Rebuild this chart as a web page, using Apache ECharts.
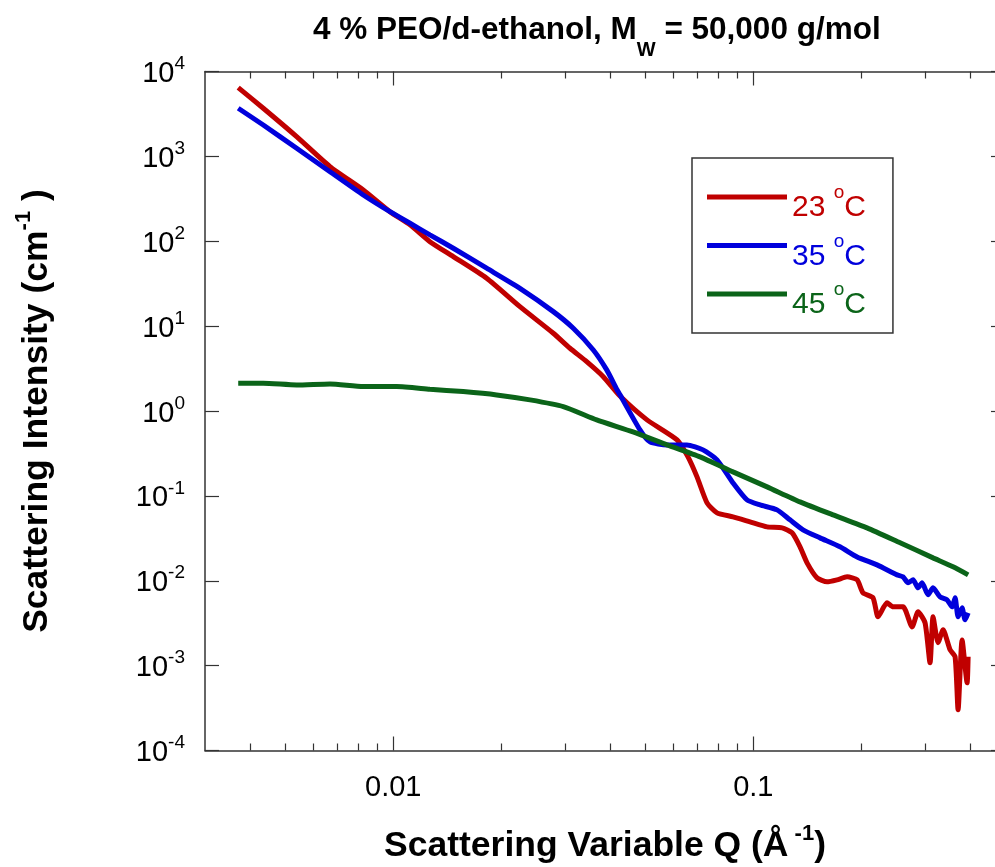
<!DOCTYPE html>
<html><head><meta charset="utf-8">
<script src="https://cdn.jsdelivr.net/npm/echarts@6/dist/echarts.min.js"></script>
<style>html,body{margin:0;padding:0;background:#fff}#c{width:995px;height:867px}</style>
</head><body><div id="c"></div>
<script>
// ---------- data ----------
const seriesNames = ['23 °C', '35 °C', '45 °C'];
const seriesColors = ['#C00000', '#0000DC', '#0B6419'];

const q23 = [0.00371,0.004355,0.005391,0.006672,0.008254,0.00979,0.01113,0.01264,0.01468,0.01817,0.02248,0.02783,0.03096,0.03445,0.03831,0.04263,0.05067,0.0614,0.06585,0.06976,0.07437,0.07927,0.08781,0.0979,0.1092,0.1202,0.1281,0.1348,0.141,0.1503,0.1602,0.1708,0.1821,0.1942,0.2017,0.215,0.222,0.2351,0.2443,0.2605,0.276,0.2868,0.2999,0.3096,0.3156,0.3259,0.3365,0.3519,0.3634,0.3704,0.38,0.3924,0.395];
const i23 = [6446,3686,1706,756,402,223,156,98.9,66.0,36.7,16.97,8.25,5.49,3.82,2.54,1.5,0.786,0.4566,0.288,0.1674,0.0827,0.0631,0.0566,0.0494,0.0431,0.042,0.0367,0.0251,0.01625,0.01082,0.00971,0.01025,0.01111,0.01025,0.0072,0.00629,0.00376,0.00549,0.00493,0.00493,0.00286,0.0043,0.00319,0.00108,0.00376,0.00186,0.00264,0.00154,0.00127,0.000302,0.00201,0.000627,0.00127];

const q35 = [0.00371,0.004355,0.005391,0.006672,0.008254,0.00979,0.01113,0.01264,0.01468,0.01817,0.02248,0.02783,0.03162,0.03594,0.03916,0.04175,0.04263,0.04844,0.05164,0.05758,0.06543,0.0725,0.07927,0.08781,0.09605,0.1044,0.1164,0.1264,0.1374,0.1532,0.1741,0.1942,0.2206,0.2507,0.2605,0.269,0.2778,0.2868,0.2942,0.3057,0.3156,0.3301,0.3452,0.3564,0.3634,0.3704,0.38,0.3873,0.395];
const i35 = [3686,2343,1246,660,351,223,163,119,82.7,48.1,27.9,14.82,9.45,5.24,3.05,1.806,1.55,0.599,0.4325,0.3988,0.3988,0.3482,0.2655,0.1422,0.0897,0.0783,0.0684,0.0522,0.0398,0.032,0.0251,0.0191,0.01539,0.01173,0.01111,0.00945,0.01025,0.00825,0.00945,0.00682,0.00825,0.00646,0.00596,0.00493,0.00629,0.00376,0.0048,0.00346,0.00419];

const q45 = [0.00371,0.004355,0.005391,0.006672,0.008254,0.01022,0.01264,0.01564,0.01937,0.02398,0.02966,0.03673,0.04633,0.05758,0.07111,0.08781,0.1092,0.1348,0.1665,0.2069,0.2556,0.3156,0.3587,0.395];
const i45 = [2.125,2.125,2.029,2.085,1.938,1.938,1.806,1.692,1.547,1.351,1.127,0.786,0.567,0.3988,0.288,0.1917,0.1276,0.085,0.0597,0.042,0.028,0.0186,0.01458,0.01173];

const xMajorTicks = [0.01, 0.1];
const xMinorTicks = [0.004,0.005,0.006,0.007,0.008,0.009,0.02,0.03,0.04,0.05,0.06,0.07,0.08,0.09,0.2,0.3,0.4];
const yTicks = [1e-4,1e-3,1e-2,1e-1,1,1e1,1e2,1e3,1e4];
const xRange = [0.003, 0.5];
const yRange = [1e-4, 1e4];

// ---------- chart ----------
const FF = '"Liberation Sans", Arial, sans-serif';
const qs = [q23, q35, q45], is = [i23, i35, i45];

function xAxisDef(pos, ticks, len, showLabel, showLine) {
  return {
    type: 'log', position: pos, min: xRange[0], max: xRange[1],
    axisLine: { show: showLine, onZero: false, lineStyle: { color: '#333', width: 1.5 } },
    axisTick: { show: true, inside: true, length: len, customValues: ticks, lineStyle: { color: '#333', width: 1.2 } },
    axisLabel: { show: showLabel, customValues: ticks, margin: 23, fontFamily: FF, fontSize: 29, color: '#000',
      formatter: v => String(v) },
    splitLine: { show: false }, minorTick: { show: false }
  };
}
function yAxisDef(pos, showLabel) {
  return {
    type: 'log', position: pos, min: yRange[0], max: yRange[1],
    axisLine: { show: true, onZero: false, lineStyle: { color: '#333', width: 1.5 } },
    axisTick: { show: true, inside: true, length: 14, customValues: yTicks, lineStyle: { color: '#333', width: 1.2 } },
    axisLabel: { show: showLabel, customValues: yTicks, margin: 20, fontFamily: FF,
      formatter: v => '{b|10}{s|' + Math.round(Math.log10(v)) + '}',
      rich: { b: { fontSize: 29, lineHeight: 34, verticalAlign: 'bottom', color: '#000', fontFamily: FF },
              s: { fontSize: 19, verticalAlign: 'top', color: '#000', fontFamily: FF } } },
    splitLine: { show: false }
  };
}

const nameRich = {
  t: { fontSize: 35.5, fontWeight: 'bold', fontFamily: FF, color: '#000', lineHeight: 42, verticalAlign: 'bottom' },
  s: { fontSize: 22, fontWeight: 'bold', fontFamily: FF, color: '#000', verticalAlign: 'top' }
};

const xAxes = [
  Object.assign(xAxisDef('bottom', xMajorTicks, 14, true, true), {
    name: '{t|Scattering Variable Q (Å}{s| -1}{t|)}', nameLocation: 'middle', nameGap: 72,
    nameTextStyle: { rich: nameRich }
  }),
  xAxisDef('bottom', xMinorTicks, 7, false, false),
  xAxisDef('top', xMajorTicks, 14, false, true),
  xAxisDef('top', xMinorTicks, 7, false, false)
];

const yAxes = [
  Object.assign(yAxisDef('left', true), {
    name: '{t|Scattering Intensity (cm}{s|-1}{t| )}', nameLocation: 'middle', nameGap: 150,
    nameTextStyle: { rich: nameRich }
  }),
  yAxisDef('right', false)
];

const legendRich = {};
seriesColors.forEach((c, k) => {
  legendRich['t' + k] = { fontSize: 30, lineHeight: 52, verticalAlign: 'bottom', color: c, fontFamily: FF };
  legendRich['s' + k] = { fontSize: 19, lineHeight: 52, verticalAlign: 'middle', padding: [0, 0, 8, 0], color: c, fontFamily: FF };
});

const option = {
  animation: false,
  backgroundColor: '#fff',
  title: {
    text: '{t|4 % PEO/d-ethanol, M}{w|W}{t| = 50,000 g/mol}',
    left: 313, top: 14, padding: 0,
    textStyle: { rich: {
      t: { fontSize: 31.5, fontWeight: 'bold', fontFamily: FF, color: '#000', verticalAlign: 'top' },
      w: { fontSize: 20, fontWeight: 'bold', fontFamily: FF, color: '#000', lineHeight: 46, verticalAlign: 'bottom' } } }
  },
  grid: { left: 205, top: 71.5, width: 800, height: 679, containLabel: false, outerBoundsMode: 'none' },
  xAxis: xAxes,
  yAxis: yAxes,
  legend: {
    orient: 'vertical', left: 692, top: 158,
    padding: [13, 27, 13, 15], itemGap: -3.5,
    itemWidth: 80, itemHeight: 5, icon: 'rect',
    borderColor: '#333', borderWidth: 1.5, backgroundColor: '#fff',
    data: seriesNames.map(n => ({ name: n })),
    formatter: name => {
      const k = seriesNames.indexOf(name);
      const parts = name.split(' °');
      return '{t' + k + '|' + parts[0] + ' }{s' + k + '|o}{t' + k + '|' + parts[1] + '}';
    },
    textStyle: { lineHeight: 52, rich: legendRich }
  },
  series: seriesNames.map((n, k) => ({
    name: n, type: 'line', xAxisIndex: 0, yAxisIndex: 0,
    data: qs[k].map((q, j) => [q, is[k][j]]),
    showSymbol: false, symbol: 'none', smooth: 0.2,
    lineStyle: { color: seriesColors[k], width: 5 },
    itemStyle: { color: seriesColors[k] },
    z: 2 + k
  }))
};

const chart = echarts.init(document.getElementById('c'), null, { renderer: 'canvas' });
chart.setOption(option);
</script>
</body></html>
